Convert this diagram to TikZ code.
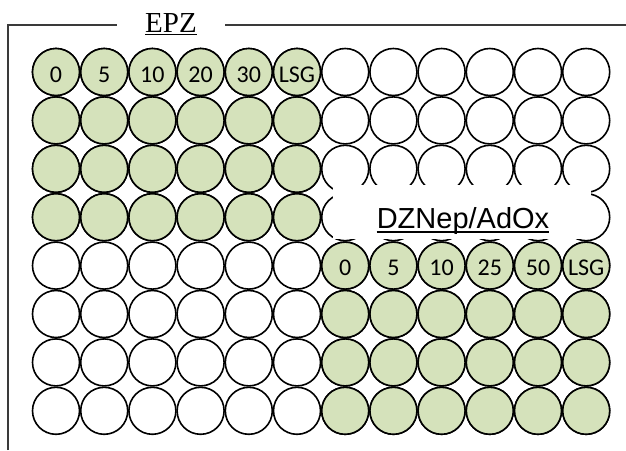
\documentclass[tikz,border=0pt]{standalone}
\usepackage{fontspec}
\setmainfont{Liberation Serif}
\newfontfamily\calibf{Carlito}
\newfontfamily\arialf{Liberation Sans}
\definecolor{wellgreen}{HTML}{D5E2BB}
\definecolor{framegray}{HTML}{3A3A3A}
\tikzset{
  well/.style={circle,draw=black,line width=1.6pt,minimum size=47pt,inner sep=0pt},
  greenwell/.style={well,fill=wellgreen},
  whitewell/.style={well,fill=white},
  welltext/.style={font=\calibf\fontsize{24}{24}\selectfont,inner sep=0pt,yshift=-2.5pt},
  frameline/.style={draw=framegray,line width=1.4pt},
  uline/.style={draw=black,line width=1.3pt}
}
\begin{document}
\begin{tikzpicture}[x=1pt,y=-1pt]
\useasboundingbox (0,0) rectangle (626,450);
% wells
\foreach \r in {1,...,8}{
  \foreach \c in {1,...,12}{
    \node[whitewell] (w\r-\c) at ({56+48.2*(\c-1)},{72+48.4*(\r-1)}) {};
  }
}
\foreach \r in {1,...,4}{
  \foreach \c in {1,...,6}{
    \node[greenwell] (w\r-\c) at ({56+48.2*(\c-1)},{72+48.4*(\r-1)}) {};
  }
}
\foreach \r in {5,...,8}{
  \foreach \c in {7,...,12}{
    \node[greenwell] (w\r-\c) at ({56+48.2*(\c-1)},{72+48.4*(\r-1)}) {};
  }
}
% labels in wells
\foreach \c/\t in {1/0,2/5,3/10,4/20,5/30,6/LSG}{
  \node[welltext] (ta\c) at (w1-\c) {\t};
}
\foreach \c/\t in {7/0,8/5,9/10,10/25,11/50,12/LSG}{
  \node[welltext] (tb\c) at (w5-\c) {\t};
}
% white box for DZNep/AdOx
\node[fill=white,inner sep=0pt,minimum width=258pt,minimum height=54pt] (dzbox) at (462,212) {};
\node[anchor=base,inner sep=0pt,font=\arialf\fontsize{29}{29}\selectfont] (dz) at (463,228) {DZNep/AdOx};
\draw[uline] ([yshift=-4pt]dz.base west) -- ([yshift=-4pt]dz.base east);
% frame
\coordinate (fbl) at (8,450);
\coordinate (ftl) at (8,25);
\coordinate (fa) at (117,25);
\coordinate (fb) at (225,25);
\coordinate (fr) at (626,25);
\draw[frameline] (fbl) -- (ftl) -- (fa);
\draw[frameline] (fb) -- (fr);
% EPZ label
\node[anchor=base,inner sep=0pt,font=\fontsize{29}{29}\selectfont] (epz) at (171,32) {EPZ};
\draw[uline] ([yshift=-2.5pt]epz.base west) -- ([yshift=-2.5pt]epz.base east);
\end{tikzpicture}
\end{document}
